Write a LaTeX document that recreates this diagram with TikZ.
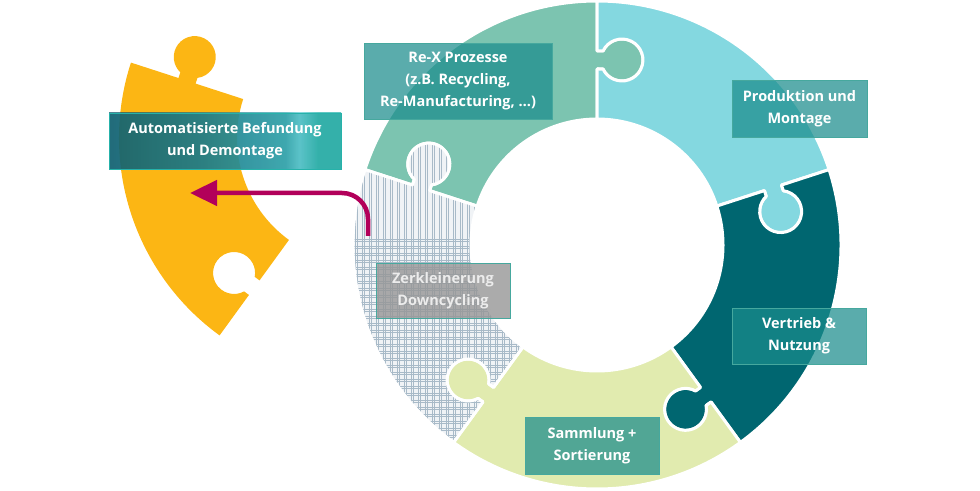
\documentclass[tikz,border=0pt]{standalone}
\usepackage{fontspec}
\setmainfont{Open Sans}
\usetikzlibrary{arrows.meta}
\definecolor{GreenClr}{RGB}{124,196,176}
\definecolor{CyanClr}{RGB}{132,216,224}
\definecolor{DarkClr}{RGB}{0,102,112}
\definecolor{PaleClr}{RGB}{225,235,175}
\definecolor{OrangeClr}{RGB}{252,182,20}
\definecolor{HatchBgClr}{RGB}{240,243,246}
\definecolor{HatchClr}{RGB}{168,186,200}
\definecolor{BoxClr}{RGB}{26,140,140}
\definecolor{BoxLineClr}{RGB}{70,168,158}
\definecolor{GreyBoxClr}{RGB}{150,150,150}
\definecolor{GreyTextClr}{RGB}{236,236,236}
\definecolor{ArrowClr}{RGB}{178,0,90}
\definecolor{BefA}{RGB}{12,84,104}
\definecolor{BefB}{RGB}{28,118,138}
\definecolor{BefC}{RGB}{52,166,176}
\definecolor{BefD}{RGB}{92,204,212}
\definecolor{BefE}{RGB}{38,178,170}
\pgfdeclarehorizontalshading{BefundShade}{100bp}{color(0bp)=(BefA); color(25bp)=(BefA);
  color(45bp)=(BefB); color(63bp)=(BefC); color(66bp)=(BefD); color(70bp)=(BefE); color(100bp)=(BefE)}
\newcommand\LabelFont{\fontsize{14.5}{22}\selectfont\bfseries}
% one ring piece, from angle #1 to #1+72, knob on the #1 side
\newcommand\PiecePath[1]{%
  (#1:126) -- (#1:176) -- ++({#1-90}:6)
  arc[start angle={#1+115.4}, end angle={#1+424.6}, radius=21pt]
  -- (#1:194) -- (#1:244)
  arc[start angle=#1, end angle={#1+72}, radius=244pt]
  -- ({#1+72}:194) -- ++({#1-18}:6)
  arc[start angle={#1+136.6}, end angle={#1-172.6}, radius=21pt]
  -- ({#1+72}:176) -- ({#1+72}:126)
  arc[start angle={#1+72}, end angle=#1, radius=126pt] -- cycle}

\begin{document}
\begin{tikzpicture}[x=1pt,y=1pt,
  PieceBorder/.style={draw=white, line width=3pt, line join=round},
  LabelBox/.style={draw=BoxLineClr, line width=0.8pt, fill=BoxClr, fill opacity=0.72,
    text opacity=1, text=white, align=center, font=\LabelFont, inner sep=0pt},
  ReturnArrow/.style={draw=ArrowClr, line width=4.5pt, rounded corners=26pt,
    -{Triangle[length=27pt,width=25pt]}}]
\useasboundingbox (0,0) rectangle (980,490);
\coordinate (O) at (597,245);

\begin{scope}[shift={(O)}]
  \path[fill=GreenClr, PieceBorder] \PiecePath{90};
  \path[fill=CyanClr, PieceBorder] \PiecePath{18};
  \path[fill=DarkClr, PieceBorder] \PiecePath{-54};
  \path[fill=PaleClr, PieceBorder] \PiecePath{-126};
  % plaid piece
  \begin{scope}
    \clip \PiecePath{162};
    \fill[HatchBgClr] (-260,-210) rectangle (-40,120);
    \foreach \k in {-256,-249,...,-40}{
      \draw[HatchClr, line width=0.45pt] (\k,-210) -- (\k,120);
      \draw[HatchClr, line width=0.25pt] (\k+2.2,-210) -- (\k+2.2,120);
      \draw[HatchClr, line width=0.45pt] (-260,\k+50) -- (-40,\k+50);
      \draw[HatchClr, line width=0.25pt] (-260,\k+52.2) -- (-40,\k+52.2);
    }
  \end{scope}
  \path[PieceBorder] \PiecePath{162};
  % piece taken out of the ring
  \begin{scope}[shift={(-234,107)}]
    \fill[OrangeClr] \PiecePath{162};
  \end{scope}
\end{scope}

\coordinate (ArrowFrom) at (368,254);
\coordinate (ArrowTo) at (190,297);
\draw[ReturnArrow] (ArrowFrom) |- (ArrowTo);

\node[LabelBox, minimum width=188pt, minimum height=76pt] (rex) at (458,409)
  {Re-X Prozesse\\(z.B. Recycling,\\Re-Manufacturing, …)};
\node[LabelBox, minimum width=135pt, minimum height=57pt] (prod) at (799.5,381.5)
  {Produktion und\\Montage};
\node[LabelBox, minimum width=134pt, minimum height=56pt] (vertrieb) at (799,154)
  {Vertrieb \&\\Nutzung};
\node[LabelBox, minimum width=134pt, minimum height=57pt] (sammlung) at (592,44.5)
  {Sammlung +\\Sortierung};
\node[LabelBox, fill=GreyBoxClr, fill opacity=0.8, text=GreyTextClr,
  minimum width=134pt, minimum height=55pt] (zerkl) at (443,199.5)
  {Zerkleinerung\\Downcycling};
\node[LabelBox, shading=BefundShade, draw=BefE,
  minimum width=232pt, minimum height=56pt] (befund) at (225,349)
  {Automatisierte Befundung\\und Demontage};
\end{tikzpicture}
\end{document}
